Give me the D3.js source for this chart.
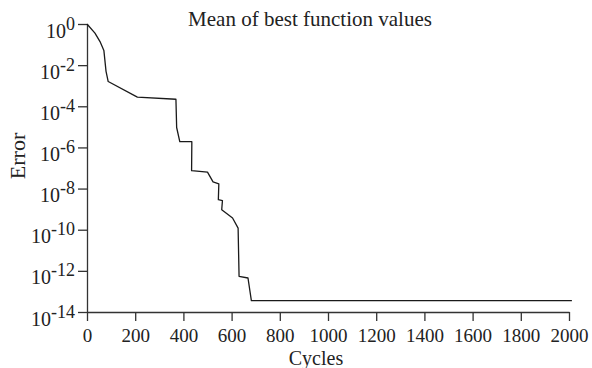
<!DOCTYPE html>
<html>
<head>
<meta charset="utf-8">
<script src="https://cdn.jsdelivr.net/npm/d3@7"></script>
<style>
  body { margin: 0; background: #fff; }
  svg text { font-family: "Liberation Serif", "Times New Roman", serif; fill: #222; }
</style>
</head>
<body>
<svg id="chart" width="592" height="368"></svg>
<script>
// values
const cycles = [0, 33, 54, 70, 79, 88, 209, 369, 372, 385, 435, 434, 500, 523, 547, 545, 562, 559, 604, 627, 631, 668, 682, 2012];
const errors = [1, 3.6e-1, 1.4e-1, 5.2e-2, 5.0e-3, 1.6e-3, 2.8e-4, 2.2e-4, 9.3e-6, 1.9e-6, 1.9e-6, 7.4e-8,
  6.3e-8, 2.1e-8, 1.7e-8, 2.9e-9, 2.6e-9, 9.3e-10, 3.7e-10, 1.2e-10, 5.4e-13, 4.5e-13, 3.6e-14, 3.6e-14];
const xTicks = [0, 200, 400, 600, 800, 1000, 1200, 1400, 1600, 1800, 2000];
const yExponents = [0, -2, -4, -6, -8, -10, -12, -14];

const width = 592, height = 368;
const margin = { top: 24, right: 23, bottom: 56, left: 87 };

const svg = d3.select('#chart');

const x = d3.scaleLinear()
  .domain([0, 2000])
  .range([margin.left, width - margin.right]);

const y = d3.scaleLog()
  .domain([1e-14, 1])
  .range([height - margin.bottom, margin.top]);

// x axis
const gx = svg.append('g')
  .attr('transform', `translate(0,${height - margin.bottom})`)
  .call(d3.axisBottom(x).tickValues(xTicks).tickSize(9).tickSizeOuter(0)
    .tickPadding(8).tickFormat(d3.format('d')));

// y axis, labels are 10 with a superscript exponent
const gy = svg.append('g')
  .attr('transform', `translate(${margin.left},0)`)
  .call(d3.axisLeft(y).tickValues(yExponents.map(e => Math.pow(10, e))).tickSize(9).tickSizeOuter(0).tickFormat(''));

[gx, gy].forEach(g => {
  g.selectAll('path, line').attr('stroke', '#333').attr('stroke-width', 1.3);
});
gx.selectAll('text').attr('font-size', 19).attr('fill', '#222')
  .attr('font-family', '"Liberation Serif", serif');

gy.selectAll('.tick').each(function (d) {
  const t = d3.select(this).select('text')
    .attr('x', -12)
    .attr('dy', null)
    .attr('y', 13)
    .attr('text-anchor', 'end')
    .attr('font-size', 20)
    .attr('fill', '#222')
    .attr('font-family', '"Liberation Serif", serif');
  const e = Math.round(Math.log10(d));
  t.append('tspan').text('10');
  t.append('tspan').attr('dy', -8).attr('font-size', 18).text(e === 0 ? '0' : '-' + Math.abs(e));
});

// data line
const line = d3.line()
  .x((d, i) => x(cycles[i]))
  .y(d => y(d));

svg.append('path')
  .datum(errors)
  .attr('fill', 'none')
  .attr('stroke', '#1a1a1a')
  .attr('stroke-width', 1.3)
  .attr('stroke-linejoin', 'round')
  .attr('d', line);

// title and axis labels
svg.append('text')
  .attr('x', 310)
  .attr('y', 26)
  .attr('text-anchor', 'middle')
  .attr('font-size', 21)
  .text('Mean of best function values');

svg.append('text')
  .attr('x', 316)
  .attr('y', 365)
  .attr('text-anchor', 'middle')
  .attr('font-size', 20)
  .text('Cycles');

svg.append('text')
  .attr('transform', 'translate(25,156) rotate(-90)')
  .attr('text-anchor', 'middle')
  .attr('font-size', 22)
  .text('Error');
</script>
</body>
</html>
